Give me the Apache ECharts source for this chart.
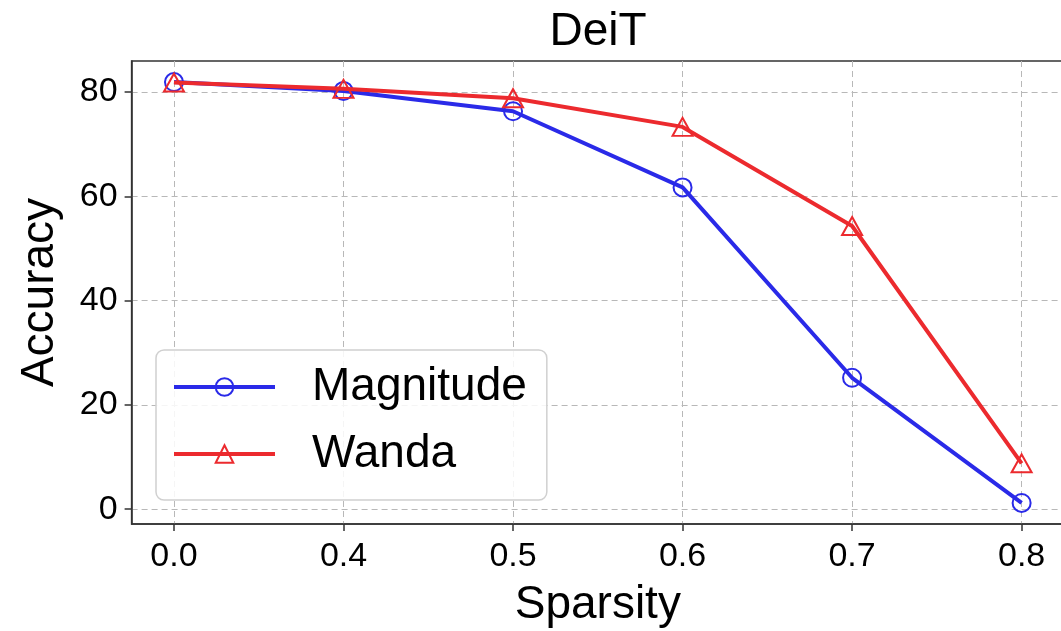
<!DOCTYPE html>
<html>
<head>
<meta charset="utf-8">
<script src="https://cdn.jsdelivr.net/npm/echarts@6/dist/echarts.min.js"></script>
<style>
html,body{margin:0;padding:0;background:#fff;}
#chart{width:1061px;height:631px;}
</style>
</head>
<body>
<div id="chart"></div>
<script>
const titleText = 'DeiT';
const categories = ['0.0', '0.4', '0.5', '0.6', '0.7', '0.8'];
const magnitude = [81.9, 80.2, 76.3, 61.7, 25.2, 1.2];
const wanda = [81.8, 80.6, 78.8, 73.3, 54.3, 8.8];
const yTicks = [0, 20, 40, 60, 80];
const seriesNames = ['Magnitude', 'Wanda'];

const allVals = magnitude.concat(wanda);
const dMin = Math.min(...allVals), dMax = Math.max(...allVals);
const pad = (dMax - dMin) * 0.05;
const xIdx = categories.map((c, i) => i);
const xPad = (categories.length - 1) * 0.05;

const FONT = '"Liberation Sans", Arial, Helvetica, sans-serif';
const blue = '#2a2ae8';
const red = '#ec2a2e';

const chart = echarts.init(document.getElementById('chart'), null, {renderer: 'canvas'});
chart.setOption({
  animation: false,
  backgroundColor: '#fff',
  textStyle: {fontFamily: FONT, color: '#000'},
  title: {
    text: titleText,
    left: 598, top: 9, textAlign: 'center', padding: 0,
    textStyle: {fontFamily: FONT, fontSize: 46, fontWeight: 'normal', color: '#000'}
  },
  grid: {
    left: 131.6, top: 61, height: 463, width: 932.4,
    outerBoundsMode: 'none', containLabel: false,
    show: true, borderColor: '#333', borderWidth: 1.5, backgroundColor: 'transparent'
  },
  legend: {
    left: 156, top: 350,
    orient: 'vertical',
    itemWidth: 101, itemHeight: 22, itemGap: 21,
    padding: [14, 20, 23, 16],
    backgroundColor: 'rgba(255,255,255,0.85)',
    borderColor: '#d0d0d0', borderWidth: 1.5, borderRadius: 8,
    lineStyle: {width: 4},
    itemStyle: {borderWidth: 2},
    textStyle: {fontFamily: FONT, fontSize: 46, color: '#000', padding: [0, 0, 0, 32]},
    data: seriesNames
  },
  xAxis: {
    type: 'value',
    min: -xPad, max: categories.length - 1 + xPad,
    axisLine: {show: true, onZero: false, lineStyle: {color: '#333', width: 1.5}},
    axisTick: {show: true, length: 7, lineStyle: {color: '#333', width: 1.5}, customValues: xIdx},
    axisLabel: {
      customValues: xIdx, margin: 16,
      fontFamily: FONT, fontSize: 34, color: '#000',
      formatter: v => categories[Math.round(v)]
    },
    splitLine: {show: true, lineStyle: {color: '#b8b8b8', width: 1, type: [6, 4]}},
    name: 'Sparsity', nameLocation: 'middle', nameGap: 58,
    nameTextStyle: {fontFamily: FONT, fontSize: 46, color: '#000'}
  },
  yAxis: {
    type: 'value',
    min: dMin - pad, max: dMax + pad,
    axisLine: {show: true, onZero: false, lineStyle: {color: '#333', width: 1.5}},
    axisTick: {show: true, length: 7, lineStyle: {color: '#333', width: 1.5}, customValues: yTicks},
    axisLabel: {customValues: yTicks, margin: 14, fontFamily: FONT, fontSize: 34, color: '#000'},
    splitLine: {show: true, lineStyle: {color: '#b8b8b8', width: 1, type: [6, 4]}},
    name: 'Accuracy', nameLocation: 'middle', nameGap: 68,
    nameTextStyle: {fontFamily: FONT, fontSize: 46, color: '#000'}
  },
  series: [
    {
      name: seriesNames[0], type: 'line',
      data: magnitude.map((v, i) => [xIdx[i], v]),
      symbol: 'circle', symbolSize: 18,
      lineStyle: {color: blue, width: 4},
      itemStyle: {color: 'rgba(255,255,255,0)', borderColor: blue, borderWidth: 2},
      z: 3
    },
    {
      name: seriesNames[1], type: 'line',
      data: wanda.map((v, i) => [xIdx[i], v]),
      symbol: 'triangle', symbolSize: [20, 18],
      lineStyle: {color: red, width: 4},
      itemStyle: {color: 'rgba(255,255,255,0)', borderColor: red, borderWidth: 2},
      z: 4
    }
  ]
});
</script>
</body>
</html>
